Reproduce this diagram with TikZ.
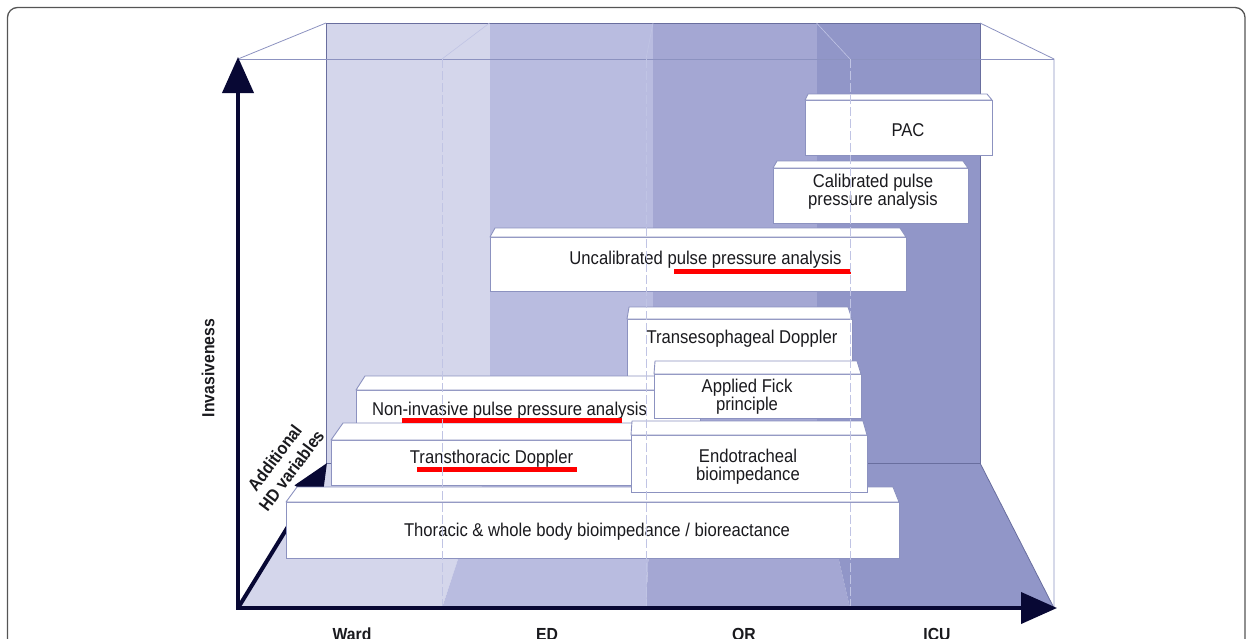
\documentclass[tikz,border=0pt]{standalone}
\usepackage{fontspec}
\setmainfont{Liberation Sans}[FakeStretch=0.9]
\usetikzlibrary{arrows.meta,calc}

\definecolor{wardc}{RGB}{212,214,235}
\definecolor{edc}{RGB}{185,188,224}
\definecolor{orc}{RGB}{164,167,211}
\definecolor{icuc}{RGB}{145,150,200}
\definecolor{edgec}{RGB}{105,110,158}
\definecolor{boxline}{RGB}{140,146,192}
\definecolor{sepc}{RGB}{192,196,228}
\definecolor{axisc}{RGB}{8,8,52}
\definecolor{inkc}{RGB}{26,26,30}
\definecolor{framec}{RGB}{85,85,85}

\tikzset{
  frontface/.style={draw=boxline, fill=white, line width=0.9pt, inner sep=0pt,
    outer sep=0pt, anchor=north west},
  topface/.style={draw=boxline, fill=white, line width=0.9pt, line join=round},
  boxtext/.style={text=inkc, font=\fontsize{18.5}{18}\selectfont, align=center,
    inner sep=0pt},
  axislabel/.style={text=inkc, font=\fontsize{17.5}{18}\selectfont\bfseries,
    align=center, inner sep=0pt},
  axisline/.style={draw=axisc, line width=4pt},
  bighead/.tip={Triangle[length=36pt,width=31pt]},
  underline/.style={draw=red, line width=5pt},
  wallline/.style={draw=edgec, line width=0.8pt},
  separator/.style={draw=sepc, line width=0.7pt, dash pattern=on 9pt off 3pt},
}

% front face as a node, bevelled top face drawn above it
% #1 name, #2 left, #3 right, #4 top of bevel, #5 top of front, #6 bottom,
% #7 left inset of bevel, #8 right inset of bevel
\newcommand{\devbox}[8]{%
  \node[frontface, minimum width={#3pt-#2pt}, minimum height={#6pt-#5pt}]
    (#1) at (#2,#5) {};
  \draw[topface] (#1.north west) -- ({#2+#7},#4) -- ({#3-#8},#4)
    -- (#1.north east) -- cycle;
}

\begin{document}
\begin{tikzpicture}[x=1pt,y=-1pt]
\useasboundingbox (0,0) rectangle (1246,638);

% outer frame
\begin{scope}
  \clip (0,0) rectangle (1246,638);
  \draw[framec, line width=1.3pt, rounded corners=10pt] (7.5,7.5) rectangle (1245,720);
\end{scope}

% corners of the room
\coordinate (btl) at (326,23);
\coordinate (btr) at (980,23);
\coordinate (bbl) at (326,463);
\coordinate (bbr) at (980,463);
\coordinate (ftl) at (238,59);
\coordinate (ftr) at (1054,59);
\coordinate (origin) at (238,608);
\coordinate (fbr) at (1054,608);

% back wall, one band per care setting
\fill[wardc] (326,23) rectangle (489.5,463);
\fill[edc] (489.5,23) rectangle (653,463);
\fill[orc] (653,23) rectangle (816.5,463);
\fill[icuc] (816.5,23) rectangle (980,463);

% floor bands
\fill[wardc] (326,463) -- (489.5,463) -- (442,608) -- (238,608) -- cycle;
\fill[edc] (489.5,463) -- (653,463) -- (646,608) -- (442,608) -- cycle;
\fill[orc] (653,463) -- (816.5,463) -- (850,608) -- (646,608) -- cycle;
\fill[icuc] (816.5,463) -- (980,463) -- (1054,608) -- (850,608) -- cycle;

% room edges
\draw[wallline] (btl) rectangle (bbr);
\draw[wallline, draw=boxline] (ftl) -- (ftr);
\draw[wallline, draw=boxline] (ftl) -- (btl);
\draw[wallline, draw=boxline] (btr) -- (ftr) -- (fbr);
\draw[wallline] (bbr) -- (fbr);
\draw[draw=sepc, line width=0.6pt] (489.5,23) -- (442,59);
\draw[draw=sepc, line width=0.6pt] (653,23) -- (646,59);
\draw[draw=sepc, line width=0.6pt] (816.5,23) -- (850,59);

% depth axis, partly hidden behind the boxes
\coordinate (ztip) at (327,463);
\draw[axisline, -{bighead}] (origin) -- (ztip);

% monitoring techniques, back to front
\devbox{pac}{805}{992}{94}{100}{155}{3}{5}
\devbox{calib}{773}{968}{161}{168}{223}{4}{5}
\devbox{uncal}{490}{906}{228}{237}{291}{5}{6}
\devbox{tee}{627}{852}{307}{319}{376}{2}{4}
\devbox{nipp}{356}{700}{376}{390}{423}{9}{4}
\devbox{fick}{654}{861}{361}{374}{418}{1}{4}
\devbox{tte}{331}{700}{423}{440}{485}{12}{4}
\devbox{bioimp}{286}{899}{487}{502}{558}{11}{6}
\devbox{endo}{631}{867}{421}{435}{492}{1}{4}

\node[boxtext, anchor=base] (pac-t) at (908,136) {PAC};
\node[boxtext] (calib-t) at (873,191.3) {Calibrated pulse\\pressure analysis};
\node[boxtext, anchor=base] (uncal-t) at (705.5,264) {Uncalibrated pulse pressure analysis};
\node[boxtext, anchor=base] (tee-t) at (742,343) {Transesophageal Doppler};
\node[boxtext, anchor=base] (nipp-t) at (509.5,415) {Non-invasive pulse pressure analysis};
\node[boxtext] (fick-t) at (747,396.3) {Applied Fick\\principle};
\node[boxtext, anchor=base] (tte-t) at (491.5,463) {Transthoracic Doppler};
\node[boxtext, anchor=base] (bioimp-t) at (597,536) {Thoracic \& whole body bioimpedance / bioreactance};
\node[boxtext] (endo-t) at (748,466.3) {Endotracheal\\bioimpedance};

% highlighted methods
\draw[underline] (674,271) -- (851,271);
\draw[underline] (402,420) -- (622,420);
\draw[underline] (417,469) -- (577,469);

% setting boundaries seen through the boxes
\draw[separator] (442,59) -- (442,608);
\draw[separator] (646,59) -- (646,608);
\draw[separator] (850,59) -- (850,608);

% main axes
\coordinate (ytip) at (238,57);
\coordinate (xtip) at (1057,608);
\draw[axisline, {bighead}-{bighead}, line join=miter] (ytip) -- (origin) -- (xtip);

% axis labels
\node[axislabel, rotate=90] (yl) at (208,368) {Invasiveness};
\node[axislabel, rotate=53, font=\fontsize{17.5}{21}\selectfont\bfseries]
  (zl) at (283,464) {Additional\\HD variables};
\node[axislabel, anchor=base] (ward) at (352,640) {Ward};
\node[axislabel, anchor=base] (ed) at (547,640) {ED};
\node[axislabel, anchor=base] (or) at (744,640) {OR};
\node[axislabel, anchor=base] (icu) at (937,640) {ICU};
\end{tikzpicture}
\end{document}
